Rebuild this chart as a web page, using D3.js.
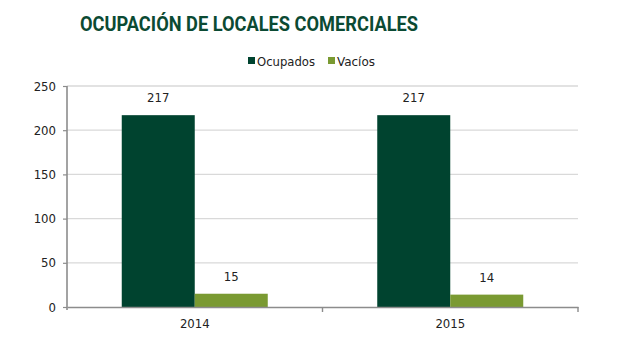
<!DOCTYPE html>
<html><head><meta charset="utf-8">
<script src="https://cdn.jsdelivr.net/npm/d3@7"></script>
<style>body{margin:0;background:#fff;} svg{display:block;}</style>
</head><body>
<svg id="c" width="623" height="340"></svg>
<script>
const title = "OCUPACIÓN DE LOCALES COMERCIALES";
const categories = ["2014", "2015"];
const seriesNames = ["Ocupados", "Vacíos"];
const ocupados = [217, 217];
const vacios = [15, 14];
const yTicks = [0, 50, 100, 150, 200, 250];
const colors = ["#00432f", "#7a9a32"];

const svg = d3.select("#c");
const m = {left: 67, right: 45, top: 86, bottom: 33};
const W = 623, H = 340;
const x0 = d3.scaleBand().domain(categories).range([m.left, W - m.right]).paddingInner(0).paddingOuter(0);
const x1 = d3.scaleBand().domain(seriesNames).range([0, x0.bandwidth()]).paddingInner(0).paddingOuter(0.75);
const y = d3.scaleLinear().domain([0, 250]).range([H - m.bottom, m.top]);

// gridlines
svg.append("g").selectAll("line").data(yTicks.filter(d => d > 0)).join("line")
  .attr("x1", m.left).attr("x2", W - m.right)
  .attr("y1", d => y(d)).attr("y2", d => y(d))
  .attr("stroke", "#d9d9d9").attr("stroke-width", 1.3);

// bars
const data = categories.map((c, i) => ({cat: c, vals: [ocupados[i], vacios[i]]}));
const g = svg.append("g").selectAll("g").data(data).join("g")
  .attr("transform", d => `translate(${x0(d.cat)},0)`);
g.selectAll("rect").data(d => d.vals.map((v, j) => ({s: seriesNames[j], v, j}))).join("rect")
  .attr("x", d => x1(d.s)).attr("width", x1.bandwidth())
  .attr("y", d => y(d.v)).attr("height", d => y(0) - y(d.v))
  .attr("fill", d => colors[d.j]);
g.selectAll("text").data(d => d.vals.map((v, j) => ({s: seriesNames[j], v, j}))).join("text")
  .attr("x", d => x1(d.s) + x1.bandwidth() / 2).attr("y", d => y(d.v) - 13)
  .attr("text-anchor", "middle")
  .attr("font-family", "DejaVu Sans Condensed, DejaVu Sans").attr("font-size", 13)
  .attr("fill", "#222").text(d => d.v);

// y axis
const ya = svg.append("g").attr("transform", `translate(${m.left},0)`)
  .call(d3.axisLeft(y).tickValues(yTicks).tickSize(4).tickPadding(7));
ya.select(".domain").attr("stroke", "#8c8c8c").attr("stroke-width", 1.6).attr("d", `M0,${y(250)}V${y(0)+3}`);
ya.selectAll(".tick line").attr("stroke", "#8c8c8c").attr("stroke-width", 1.2);
ya.selectAll(".tick text").attr("font-family", "DejaVu Sans Condensed, DejaVu Sans").attr("font-size", 13).attr("fill", "#222");

// x axis
const xa = svg.append("g").attr("transform", `translate(0,${y(0)})`)
  .call(d3.axisBottom(x0).tickSize(0).tickPadding(12));
xa.select(".domain").attr("stroke", "#8c8c8c").attr("stroke-width", 1.6);
xa.selectAll(".tick text").attr("font-family", "DejaVu Sans Condensed, DejaVu Sans").attr("font-size", 13).attr("fill", "#222");
const bounds = [x0(categories[0]), ...categories.map(c => x0(c) + x0.bandwidth())];
svg.append("g").selectAll("line").data(bounds.slice(1)).join("line")
  .attr("x1", d => d).attr("x2", d => d).attr("y1", y(0)).attr("y2", y(0) + 5)
  .attr("stroke", "#8c8c8c").attr("stroke-width", 1.4);

// title
svg.append("text").attr("x", 80).attr("y", 31)
  .attr("font-family", "Roboto, Liberation Sans").attr("font-weight", "bold")
  .attr("font-size", 20).attr("fill", "#0b4a33")
  .attr("textLength", 338).attr("lengthAdjust", "spacingAndGlyphs")
  .text(title);

// legend
const legX = [248, 328];
const textW = [58, 38];
const lg = svg.append("g").selectAll("g").data(seriesNames).join("g")
  .attr("transform", (d, i) => `translate(${legX[i]},0)`);
lg.append("rect").attr("x", 0).attr("y", 57).attr("width", 7).attr("height", 7)
  .attr("fill", (d, i) => colors[i]);
lg.append("text").attr("x", 9).attr("y", 66)
  .attr("font-family", "DejaVu Sans Condensed, DejaVu Sans").attr("font-size", 13)
  .attr("fill", "#222")
  .attr("textLength", (d, i) => textW[i]).attr("lengthAdjust", "spacingAndGlyphs")
  .text(d => d);
</script>
</body></html>
